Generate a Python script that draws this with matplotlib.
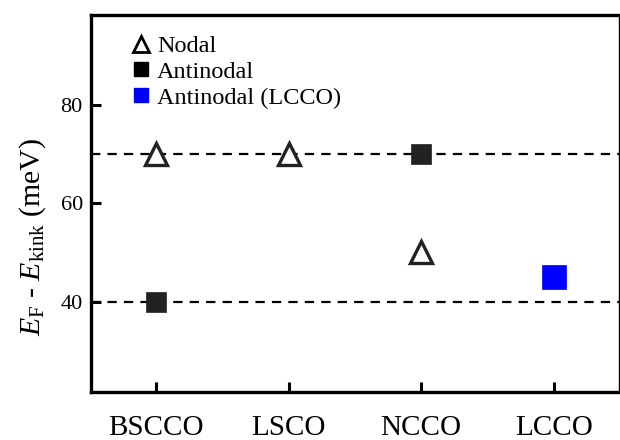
import matplotlib
matplotlib.use("Agg")
import matplotlib.pyplot as plt
from matplotlib.lines import Line2D

plt.rcParams['font.family'] = ['Liberation Serif', 'DejaVu Serif']
plt.rcParams['mathtext.fontset'] = 'custom'
plt.rcParams['mathtext.rm'] = 'Liberation Serif'
plt.rcParams['mathtext.it'] = 'Liberation Serif:italic'

categories = ['BSCCO', 'LSCO', 'NCCO', 'LCCO']
nodal_x = [0, 1, 2]
nodal_y = [70, 70, 50]
antinodal_x = [0, 2]
antinodal_y = [40, 70]
lcco_x = [3]
lcco_y = [45]
ref_lines = [70, 40]
yticks = [40, 60, 80]

fig = plt.figure(figsize=(6.2, 4.4), dpi=100)
ax = fig.add_axes([0.147, 0.109, 0.851, 0.857])

for yv in ref_lines:
    ax.axhline(yv, color='black', lw=1.6, dashes=(4.2, 3.2), zorder=1)

dark = '#222222'
ax.plot(nodal_x, nodal_y, ls='none', marker='^', ms=16, mfc='white', mec=dark, mew=2.4, zorder=3)
ax.plot(antinodal_x, antinodal_y, ls='none', marker='s', ms=14, mfc=dark, mec=dark, mew=0.5, zorder=3)
ax.plot(lcco_x, lcco_y, ls='none', marker='s', ms=17.5, mfc='#0000ff', mec='#0000ff', mew=0.5, zorder=3)

ax.set_xlim(-0.49, 3.49)
ax.set_ylim(21.6, 98.3)
ax.set_xticks(range(len(categories)))
ax.set_xticklabels(categories, fontsize=21)
ax.set_yticks(yticks)
ax.set_yticklabels([str(v) for v in yticks], fontsize=16)
ax.tick_params(axis='both', direction='in', length=7, width=2.2)
ax.tick_params(axis='x', pad=16.5)
ax.tick_params(axis='y', pad=6)

for s in ['left', 'top', 'bottom']:
    ax.spines[s].set_linewidth(2.4)
ax.spines['right'].set_linewidth(1.0)

ax.set_ylabel(r'$E_{\mathrm{F}}$ - $E_{\mathrm{kink}}$ (meV)', fontsize=21.5)
ax.yaxis.set_label_coords(-0.082, 0.412)

handles = [
    Line2D([], [], ls='none', marker='^', ms=11, mfc='white', mec='black', mew=2.0),
    Line2D([], [], ls='none', marker='s', ms=10, mfc='black', mec='black'),
    Line2D([], [], ls='none', marker='s', ms=10, mfc='#0000ff', mec='#0000ff'),
]
ax.legend(handles, ['Nodal', 'Antinodal', 'Antinodal (LCCO)'], loc='upper left',
          bbox_to_anchor=(0.047, 0.985), frameon=False, fontsize=17.5,
          handlelength=0.9, handletextpad=0.2, labelspacing=0.15, borderaxespad=0.2)

fig.savefig('out.png', dpi=100)
